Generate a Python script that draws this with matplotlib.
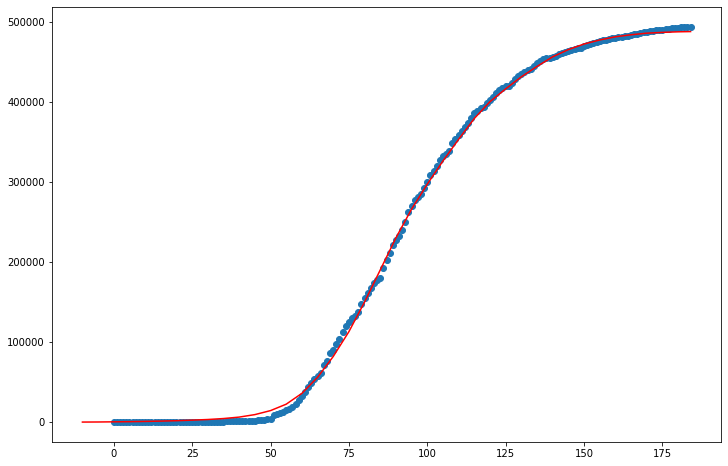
import matplotlib
matplotlib.use("Agg")
import matplotlib.pyplot as plt
import numpy as np

# observed cumulative values, one per day (day 0 .. 184)
days = list(range(0, 185))
observed = [
    0, 0, 0, 0, 0, 1, 1, 2, 2, 3,
    5, 8, 10, 15, 20, 30, 40, 55, 70, 90,
    110, 140, 170, 200, 240, 280, 320, 360, 400, 450,
    500, 560, 620, 700, 780, 850, 950, 1050, 1150, 1250,
    1350, 1450, 1550, 1650, 1750, 1800, 2200, 2600, 3000, 3500,
    4500, 8500, 10000, 11500, 13000, 15000, 17000, 19500, 23000, 28000,
    33000, 38000, 44000, 49000, 54000, 58000, 62000, 72000, 76000, 86000,
    90000, 97000, 104000, 112000, 120000, 125000, 130000, 133000, 138000, 147000,
    155000, 161000, 168000, 174000, 178000, 180000, 192000, 202000, 211000, 221000,
    227000, 232000, 240000, 250000, 262000, 270000, 277000, 281000, 285000, 292000,
    300000, 309000, 314000, 320000, 327000, 332000, 335000, 338000, 348000, 354000,
    359000, 363000, 368000, 374000, 380000, 386000, 389000, 392000, 394000, 398000,
    402000, 406000, 411000, 415000, 417000, 419000, 420000, 423000, 428000, 432000,
    435000, 437000, 439000, 441000, 445000, 448000, 451000, 453000, 454000, 455000,
    456000, 457000, 459000, 461000, 462000, 463000, 464000, 465500, 466500, 467500,
    469000, 470500, 472000, 473500, 474500, 475500, 476500, 477500, 478500, 479500,
    480000, 480500, 481000, 482000, 482500, 483500, 484500, 485000, 486000, 486500,
    487500, 488000, 488500, 489000, 489500, 490000, 490500, 491000, 491500, 492000,
    492300, 492600, 492900, 493200, 493500,
]

# fitted curve
fit_days = [-10, -5, 0, 5, 10, 15, 20, 25, 30, 35, 40, 45, 50, 55, 60, 65, 70,
            75, 80, 85, 90, 95, 100, 105, 110, 115, 120, 125, 130, 135, 140,
            145, 150, 155, 160, 165, 170, 175, 180, 184]
fit_values = [200, 300, 500, 700, 1000, 1400, 1900, 2600, 3400, 4600, 6400,
              9500, 14500, 22500, 36000, 56000, 82000, 113000, 150000, 190000,
              230000, 266000, 297000, 326000, 353000, 379000, 400000, 416000,
              431000, 444000, 456000, 465000, 472000, 477000, 481000, 483500,
              485500, 486500, 487200, 487500]

fig = plt.figure(figsize=(728 / 72, 466 / 72), dpi=72)
ax = fig.add_axes([52 / 728, 1 - 442 / 466, (721 - 52) / 728, (442 - 7) / 466])

ax.scatter(days, observed, s=36, color="#1f77b4")
ax.plot(fit_days, fit_values, color="red", linewidth=1.5)

fig.savefig("out.png", dpi=72)
